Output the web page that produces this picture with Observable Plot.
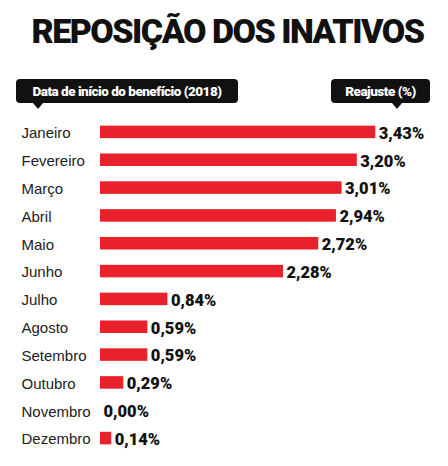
<!DOCTYPE html>
<html>
<head>
<meta charset="utf-8">
<script src="https://cdn.jsdelivr.net/npm/d3@7"></script>
<script src="https://cdn.jsdelivr.net/npm/@observablehq/plot@0.6"></script>
<style>
  body { margin: 0; background: #fff; }
  #page { position: relative; width: 448px; height: 466px; overflow: hidden; }
  #title {
    position: absolute; left: 0; top: 11px; width: 448px; text-align: center;
    font-family: Roboto, "Noto Sans", sans-serif; font-weight: 900; font-size: 34px;
    letter-spacing: -1.5px; color: #111; line-height: 40px; margin: 0; padding-left: 7px;
    box-sizing: border-box;
  }
  .tag {
    position: absolute; top: 79px; height: 24px; background: #111; border-radius: 4px;
    color: #fff; font-family: Roboto, "Noto Sans", sans-serif; font-weight: 900;
    font-size: 13.5px; line-height: 24px; letter-spacing: -0.5px; text-align: center;
  }
  .tag::after {
    content: ""; position: absolute; top: 24px; width: 0; height: 0;
    border-left: 5px solid transparent; border-right: 5px solid transparent;
    border-top: 6px solid #111;
  }
  #tagLeft { left: 16px; width: 222px; }
  #tagLeft::after { left: 17px; }
  #tagRight { left: 331px; width: 99px; }
  #tagRight::after { left: 61px; }
  #chart { position: absolute; left: 0; top: 112px; }
</style>
</head>
<body>
<div id="page">
  <h1 id="title">REPOSIÇÃO DOS INATIVOS</h1>
  <div class="tag" id="tagLeft">Data de início do benefício (2018)</div>
  <div class="tag" id="tagRight">Reajuste (%)</div>
  <div id="chart"></div>
</div>
<script>
// Mês de início do benefício e reajuste (%)
var months = ["Janeiro", "Fevereiro", "Março", "Abril", "Maio", "Junho",
              "Julho", "Agosto", "Setembro", "Outubro", "Novembro", "Dezembro"];
var reajuste = [3.43, 3.20, 3.01, 2.94, 2.72, 2.28, 0.84, 0.59, 0.59, 0.29, 0.00, 0.14];

var rows = months.map(function(m, i) { return {month: m, value: reajuste[i]}; });

function fmt(v) {
  return v.toFixed(2).replace(".", ",") + "%";
}

var plot = Plot.plot({
  width: 448,
  height: 354,
  marginLeft: 100,
  marginRight: 27,
  marginTop: 6,
  marginBottom: 14,
  x: { domain: [0, 4], axis: null },
  y: { domain: months, paddingInner: 0.55, paddingOuter: 0.275, round: false, label: null },
  style: { fontFamily: "Roboto, 'Noto Sans', sans-serif", background: "#fff" },
  marks: [
    Plot.barX(rows, { x: "value", y: "month", fill: "#e8212b" }),
    Plot.ruleX(rows.filter(function(d) { return d.value === 0; }), {
      x: 0, y: "month", stroke: "#e6d6d6", strokeWidth: 1
    }),
    Plot.text(rows, {
      x: "value", y: "month", text: function(d) { return fmt(d.value); },
      textAnchor: "start", dx: 3, dy: 1, fontSize: 16.5, fontWeight: 900, fill: "#111"
    }),
    Plot.axisY({
      tickSize: 0, tickPadding: 0, textAnchor: "start", dx: -79, dy: 1,
      fontSize: 15, fill: "#222", label: null,
      fontFamily: "'Liberation Sans', Arial, sans-serif"
    })
  ]
});

document.getElementById("chart").appendChild(plot);
</script>
</body>
</html>
